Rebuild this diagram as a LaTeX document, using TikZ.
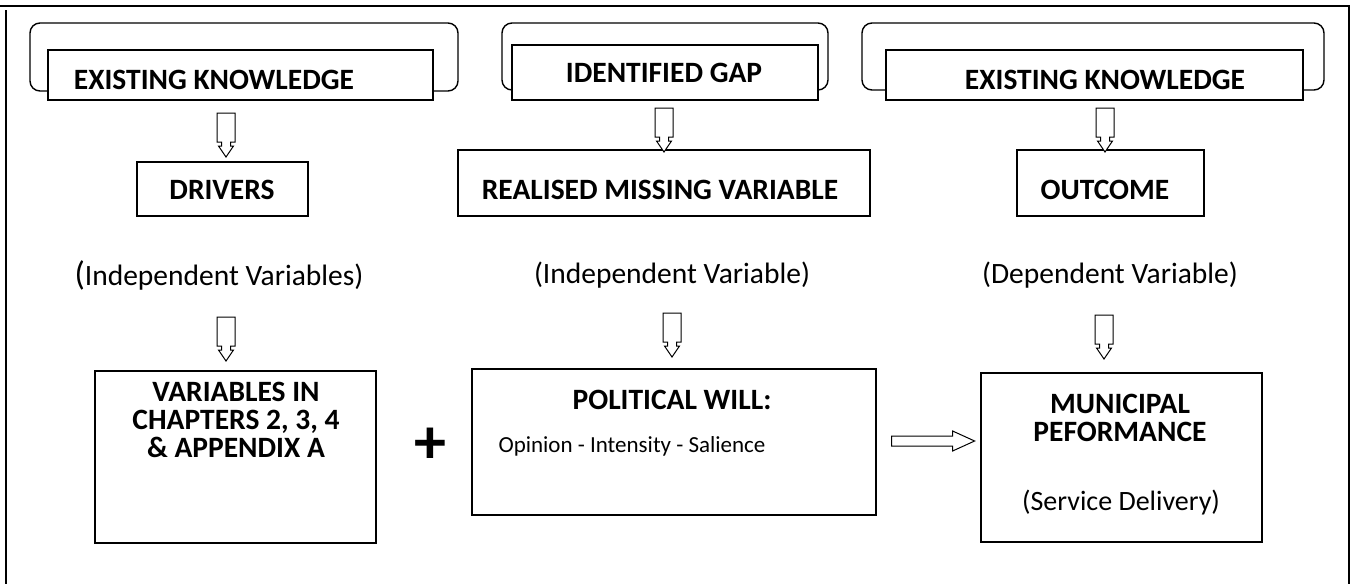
\documentclass[tikz,border=0pt]{standalone}
\usepackage{fontspec}
\setmainfont{Carlito}
\usetikzlibrary{calc}
\begin{document}
\begin{tikzpicture}[x=1pt,y=-1pt,
  box/.style={draw, line width=1.2pt, fill=white, inner sep=0pt},
  backbox/.style={draw, line width=1.4pt, rounded corners=10pt},
  head/.style={font=\fontsize{29.5}{28}\selectfont\bfseries, inner sep=0pt, align=center},
  plain/.style={font=\fontsize{29.5}{34}\selectfont, inner sep=0pt},
  small/.style={font=\fontsize{23}{28}\selectfont, inner sep=0pt},
  downblock/.pic={\draw[line width=1pt, fill=white]
      (-9,0) -- (9,0) -- (9,29) -- (4.5,29) -- (4.5,33) -- (7.5,33) -- (0,44)
      -- (-7.5,33) -- (-4.5,33) -- (-4.5,29) -- (-9,29) -- cycle;},
]
\useasboundingbox (0,0) rectangle (1353,584);

% outer frame (open at the bottom)
\draw[line width=1.6pt] (0,6) -- (1349,6) -- (1349,584);
\draw[line width=1.6pt] (6,10) -- (6,584);

% rounded backing shapes of the top row
\draw[backbox] (30,23) rectangle (458,91);
\draw[backbox] (502,23) rectangle (828,90);
\draw[backbox] (862,23) rectangle (1324,90);

% top row boxes
\node[box, minimum width=385, minimum height=50] (ek1) at (240.5,75) {};
\node[box, minimum width=306, minimum height=55] (gap) at (665,72.5) {};
\node[box, minimum width=417, minimum height=50] (ek2) at (1094.5,75) {};
\node[head] (ek1t) at (214,80) {EXISTING KNOWLEDGE};
\node[head] (gapt) at (664,73) {IDENTIFIED GAP};
\node[head] (ek2t) at (1105,80) {EXISTING KNOWLEDGE};

% second row boxes
\node[box, minimum width=171, minimum height=54] (drv) at (222.5,189) {};
\node[box, minimum width=412, minimum height=66] (rmv) at (664,183) {};
\node[box, minimum width=187, minimum height=66] (out) at (1110.5,183) {};
\node[head] (drvt) at (222,190) {DRIVERS};
\node[head] (rmvt) at (660,190) {REALISED MISSING VARIABLE};
\node[head] (outt) at (1105,190) {OUTCOME};

% variable types
\node[plain] (iv1) at (219,275) {{\fontsize{34}{34}\selectfont(}Independent Variables)};
\node[plain] (iv2) at (672,275) {(Independent Variable)};
\node[plain] (dv) at (1110,275) {(Dependent Variable)};

% bottom row boxes
\node[box, minimum width=281, minimum height=172] (var) at (235.5,457) {};
\node[box, minimum width=404, minimum height=146] (pw) at (674,442) {};
\node[box, minimum width=281, minimum height=169] (mp) at (1121.5,457.5) {};
\node[head] (vart) at (236,420) {VARIABLES IN\\CHAPTERS 2, 3, 4\\\& APPENDIX A};
\node[head] (pwt) at (672,400) {POLITICAL WILL:};
\node[small] (pws) at (632,446) {Opinion - Intensity - Salience};
\node[head] (mpt) at (1120,418) {MUNICIPAL\\PEFORMANCE};
\node[font=\fontsize{28}{34}\selectfont, inner sep=0pt] (sd) at (1121,503) {(Service Delivery)};
\node[font=\fontsize{64}{64}\selectfont\bfseries, inner sep=0pt] (plus) at (430,446) {+};

% downward block arrows
\pic at (226,113) {downblock};
\pic at (664,108) {downblock};
\pic at (1105,108) {downblock};
\pic at (226,317) {downblock};
\pic at (672,313) {downblock};
\pic at (1104,315) {downblock};

% block arrow from political will to municipal performance
\draw[line width=1pt, fill=white]
  ($(pw.east)+(15,-6)$) coordinate (ha) -- ++(61,0) -- ++(0,-5) -- ++(22,10)
  -- ++(-22,10) -- ++(0,-5) -- ++(-61,0) -- cycle;
\end{tikzpicture}
\end{document}
